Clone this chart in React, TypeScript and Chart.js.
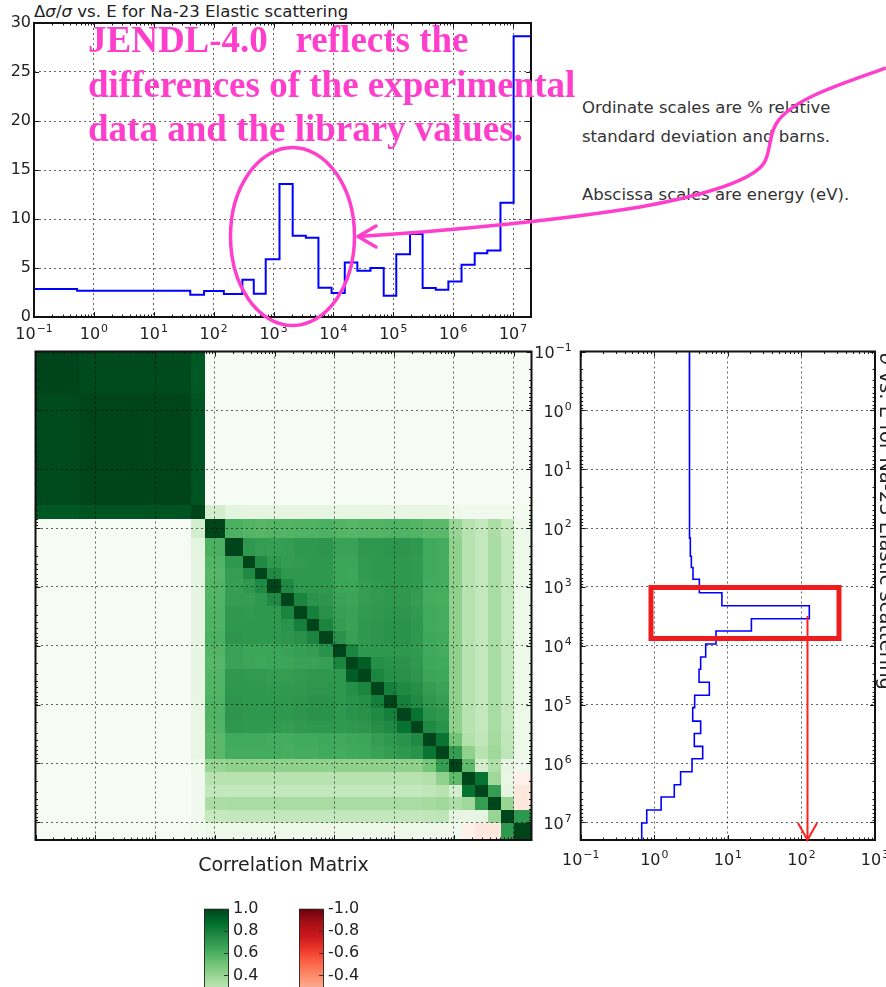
import React, { useEffect, useRef } from 'react';
import { Chart, registerables } from 'chart.js';

Chart.register(...registerables);

const FONT = "'DejaVu Sans', 'Liberation Sans', sans-serif";
const INK = '#222222';
const GRID = 'rgba(0,0,0,0.6)';
const PINK = '#ff3fcc';

Chart.defaults.font.family = FONT;
Chart.defaults.color = INK;

// ---------------- data ----------------
// energy group boundaries (eV)
const groupBoundsEV = [0.1, 0.525, 40.7, 69.2, 148, 302, 468, 741, 1259, 2089, 3467, 5623, 9333, 15488, 25119, 41687, 69183, 112202, 190546, 309030, 512861, 831764, 1380384, 2290868, 3715352, 6165950, 10232930, 19952623];
// relative standard deviation (%) per group
const relStdDevPct = [2.85, 2.68, 2.27, 2.65, 2.34, 3.8, 2.38, 5.9, 13.57, 8.28, 8.08, 2.99, 2.44, 5.56, 4.72, 4.99, 2.17, 6.41, 8.48, 2.95, 2.78, 3.63, 5.33, 6.51, 6.79, 11.67, 28.64];
// group cross section (barns)
const crossSectionBarns = [3.0, 3.0, 3.02, 3.03, 3.09, 3.19, 3.36, 4.1, 8.3, 128, 20.9, 6.9, 5.0, 4.27, 4.06, 5.6, 3.54, 3.33, 4.27, 3.5, 4.55, 3.26, 2.28, 1.87, 1.24, 0.79, 0.675];

const energyDecades = [0.1, 1, 10, 100, 1e3, 1e4, 1e5, 1e6, 1e7];
const energyTickExps = ['\u22121', '0', '1', '2', '3', '4', '5', '6', '7'];
const sigmaDecades = [0.1, 1, 10, 100, 1000];
const sigmaTickExps = ['\u22121', '0', '1', '2', '3'];
const pctTicks = [0, 5, 10, 15, 20, 25, 30];
const pctTickLabels = ['0', '5', '10', '15', '20', '25', '30'];

const correlationRows = [
  [1.00,0.98,0.94,0.01,0.01,0.01,0.01,0.01,0.01,0.01,0.01,0.01,0.01,0.01,0.01,0.01,0.01,0.01,0.01,0.01,0.01,0.01,0.01,0.01,0.01,0.01,0.01],
  [0.98,1.00,0.95,0.01,0.01,0.01,0.01,0.01,0.01,0.01,0.01,0.01,0.01,0.01,0.01,0.01,0.01,0.01,0.01,0.01,0.01,0.01,0.01,0.01,0.01,0.01,0.01],
  [0.94,0.95,1.00,0.20,0.13,0.12,0.12,0.12,0.12,0.12,0.12,0.12,0.11,0.11,0.11,0.11,0.10,0.10,0.10,0.10,0.10,0.06,0.05,0.05,0.05,0.05,0.03],
  [0.01,0.01,0.20,1.00,0.60,0.58,0.57,0.58,0.58,0.59,0.59,0.60,0.58,0.57,0.58,0.58,0.59,0.59,0.58,0.56,0.56,0.40,0.30,0.26,0.34,0.25,0.07],
  [0.01,0.01,0.13,0.60,1.00,0.70,0.68,0.67,0.68,0.70,0.70,0.71,0.66,0.66,0.70,0.70,0.71,0.71,0.70,0.63,0.62,0.42,0.30,0.26,0.35,0.26,0.07],
  [0.01,0.01,0.12,0.58,0.70,1.00,0.76,0.70,0.68,0.69,0.70,0.70,0.65,0.65,0.69,0.70,0.70,0.70,0.69,0.63,0.62,0.42,0.30,0.26,0.35,0.26,0.07],
  [0.01,0.01,0.12,0.57,0.68,0.76,1.00,0.76,0.70,0.70,0.70,0.70,0.65,0.64,0.69,0.70,0.70,0.70,0.69,0.63,0.62,0.42,0.30,0.26,0.35,0.26,0.07],
  [0.01,0.01,0.12,0.58,0.67,0.70,0.76,1.00,0.76,0.70,0.70,0.70,0.65,0.65,0.68,0.69,0.70,0.70,0.69,0.62,0.62,0.42,0.30,0.26,0.35,0.26,0.07],
  [0.01,0.01,0.12,0.58,0.68,0.68,0.70,0.76,1.00,0.78,0.72,0.71,0.66,0.65,0.68,0.69,0.70,0.70,0.68,0.62,0.61,0.42,0.30,0.26,0.35,0.26,0.07],
  [0.01,0.01,0.12,0.59,0.70,0.69,0.70,0.70,0.78,1.00,0.80,0.73,0.67,0.66,0.69,0.70,0.71,0.71,0.69,0.63,0.62,0.42,0.30,0.26,0.35,0.26,0.07],
  [0.01,0.01,0.12,0.59,0.70,0.70,0.70,0.70,0.72,0.80,1.00,0.78,0.68,0.66,0.70,0.71,0.72,0.72,0.70,0.63,0.62,0.42,0.30,0.26,0.35,0.26,0.07],
  [0.01,0.01,0.12,0.60,0.71,0.70,0.70,0.70,0.71,0.73,0.78,1.00,0.72,0.67,0.70,0.71,0.72,0.72,0.70,0.64,0.63,0.42,0.30,0.26,0.35,0.26,0.07],
  [0.01,0.01,0.11,0.58,0.66,0.65,0.65,0.65,0.66,0.67,0.68,0.72,1.00,0.78,0.70,0.70,0.70,0.70,0.69,0.63,0.62,0.42,0.30,0.26,0.35,0.26,0.07],
  [0.01,0.01,0.11,0.57,0.66,0.65,0.64,0.65,0.65,0.66,0.66,0.67,0.78,1.00,0.92,0.74,0.72,0.72,0.70,0.64,0.63,0.42,0.30,0.26,0.35,0.26,0.07],
  [0.01,0.01,0.11,0.58,0.70,0.69,0.69,0.68,0.68,0.69,0.70,0.70,0.70,0.92,1.00,0.78,0.74,0.73,0.71,0.65,0.64,0.42,0.30,0.26,0.35,0.26,0.07],
  [0.01,0.01,0.11,0.58,0.70,0.70,0.70,0.69,0.69,0.70,0.71,0.71,0.70,0.74,0.78,1.00,0.80,0.76,0.74,0.68,0.66,0.42,0.30,0.26,0.35,0.26,0.07],
  [0.01,0.01,0.10,0.59,0.71,0.70,0.70,0.70,0.70,0.71,0.72,0.72,0.70,0.72,0.74,0.80,1.00,0.80,0.76,0.70,0.68,0.42,0.30,0.26,0.35,0.26,0.07],
  [0.01,0.01,0.10,0.59,0.71,0.70,0.70,0.70,0.70,0.71,0.72,0.72,0.70,0.72,0.73,0.76,0.80,1.00,0.85,0.72,0.70,0.42,0.30,0.26,0.35,0.26,0.07],
  [0.01,0.01,0.10,0.58,0.70,0.69,0.69,0.69,0.68,0.69,0.70,0.70,0.69,0.70,0.71,0.74,0.76,0.85,1.00,0.76,0.72,0.42,0.30,0.26,0.35,0.26,0.07],
  [0.01,0.01,0.10,0.56,0.63,0.63,0.63,0.62,0.62,0.63,0.63,0.64,0.63,0.64,0.65,0.68,0.70,0.72,0.76,1.00,0.84,0.50,0.32,0.27,0.36,0.27,0.07],
  [0.01,0.01,0.10,0.56,0.62,0.62,0.62,0.62,0.61,0.62,0.62,0.63,0.62,0.63,0.64,0.66,0.68,0.70,0.72,0.84,1.00,0.68,0.42,0.30,0.38,0.28,0.07],
  [0.01,0.01,0.06,0.40,0.42,0.42,0.42,0.42,0.42,0.42,0.42,0.42,0.42,0.42,0.42,0.42,0.42,0.42,0.42,0.50,0.68,1.00,0.55,0.20,0.33,0.12,0.05],
  [0.01,0.01,0.05,0.30,0.30,0.30,0.30,0.30,0.30,0.30,0.30,0.30,0.30,0.30,0.30,0.30,0.30,0.30,0.30,0.32,0.42,0.55,1.00,0.85,0.38,0.10,-0.03],
  [0.01,0.01,0.05,0.26,0.26,0.26,0.26,0.26,0.26,0.26,0.26,0.26,0.26,0.26,0.26,0.26,0.26,0.26,0.26,0.27,0.30,0.20,0.85,1.00,0.68,0.12,-0.08],
  [0.01,0.01,0.05,0.34,0.35,0.35,0.35,0.35,0.35,0.35,0.35,0.35,0.35,0.35,0.35,0.35,0.35,0.35,0.35,0.36,0.38,0.33,0.38,0.68,1.00,0.40,-0.08],
  [0.01,0.01,0.05,0.25,0.26,0.26,0.26,0.26,0.26,0.26,0.26,0.26,0.26,0.26,0.26,0.26,0.26,0.26,0.26,0.27,0.28,0.12,0.10,0.12,0.40,1.00,0.70],
  [0.01,0.01,0.03,0.07,0.07,0.07,0.07,0.07,0.07,0.07,0.07,0.07,0.07,0.07,0.07,0.07,0.07,0.07,0.07,0.07,0.07,0.05,-0.03,-0.08,-0.08,0.70,1.00],
];

const greenBarTicks = [0, 0.2, 0.4, 0.6, 0.8, 1.0];
const greenBarLabels = ['0.0', '0.2', '0.4', '0.6', '0.8', '1.0'];
const redBarTicks = [-1, -0.8, -0.6, -0.4, -0.2, 0];
const redBarLabels = ['-1.0', '-0.8', '-0.6', '-0.4', '-0.2', '0.0'];

const greensStops = ['#f7fcf5', '#e5f5e0', '#c7e9c0', '#a1d99b', '#74c476', '#41ab5d', '#238b45', '#006d2c', '#00441b'];
const redsStops = ['#fff5f0', '#fee0d2', '#fcbba1', '#fc9272', '#fb6a4a', '#ef3b2c', '#cb181d', '#a50f15', '#67000d'];

// ---------------- helpers ----------------
const E_MIN = groupBoundsEV[0];
const E_MAX = groupBoundsEV[groupBoundsEV.length - 1];
const LABEL_SIZE = 16;
const tickFont = { family: FONT, size: LABEL_SIZE };

function hexToRgb(h: string) {
  const n = parseInt(h.slice(1), 16);
  return [(n >> 16) & 255, (n >> 8) & 255, n & 255];
}
function lerpColor(stops: string[], t: number) {
  const tt = Math.max(0, Math.min(1, t)) * (stops.length - 1);
  const i = Math.min(stops.length - 2, Math.floor(tt));
  const f = tt - i;
  const a = hexToRgb(stops[i]);
  const b = hexToRgb(stops[i + 1]);
  const c = a.map((v, k) => Math.round(v + (b[k] - v) * f));
  return `rgb(${c[0]},${c[1]},${c[2]})`;
}
function corrColor(v: number) {
  return v >= 0 ? lerpColor(greensStops, v) : lerpColor(redsStops, -v);
}
function logMinorTicks(min: number, max: number) {
  const out: number[] = [];
  for (let e = Math.floor(Math.log10(min)); e <= Math.ceil(Math.log10(max)); e++) {
    for (let k = 2; k <= 9; k++) {
      const v = k * Math.pow(10, e);
      if (v > min && v < max) out.push(v);
    }
  }
  return out;
}
const setTicks = (values: number[]) => (s: any) => {
  s.ticks = values.map((value) => ({ value }));
};

// draws "10" with a raised exponent, like matplotlib's mathtext
function drawPow(ctx: any, x: number, baseline: number, exp: string, align: 'center' | 'right') {
  const bf = `${LABEL_SIZE}px ${FONT}`;
  const ef = `${LABEL_SIZE * 0.68}px ${FONT}`;
  ctx.font = bf;
  const wb = ctx.measureText('10').width;
  ctx.font = ef;
  const we = ctx.measureText(exp).width;
  const total = wb + 1 + we;
  const x0 = align === 'center' ? x - total / 2 : x - total;
  ctx.textAlign = 'left';
  ctx.textBaseline = 'alphabetic';
  ctx.fillStyle = INK;
  ctx.font = bf;
  ctx.fillText('10', x0, baseline);
  ctx.font = ef;
  ctx.fillText(exp, x0 + wb + 1, baseline - LABEL_SIZE * 0.45);
}

type FrameOpts = {
  xMajor: number[]; xMinor: number[]; yMajor: number[]; yMinor: number[];
  xPow?: { exps: string[]; baselineOffset: number };
  yPow?: { exps: string[]; rightGap: number; baselineShift: number };
};

function makeFramePlugin(o: FrameOpts) {
  return {
    id: 'frameTicks',
    afterDraw(chart: any) {
      const { ctx, chartArea: a } = chart;
      const xs = chart.scales.x;
      const ys = chart.scales.y;
      ctx.save();
      ctx.strokeStyle = '#1a1a1a';
      ctx.lineWidth = 1;
      const seg = (x1: number, y1: number, x2: number, y2: number) => {
        ctx.beginPath();
        ctx.moveTo(x1, y1);
        ctx.lineTo(x2, y2);
        ctx.stroke();
      };
      const doX = (vals: number[], len: number) =>
        vals.forEach((v) => {
          const p = Math.round(xs.getPixelForValue(v)) + 0.5;
          if (p < a.left || p > a.right) return;
          seg(p, a.bottom, p, a.bottom - len);
          seg(p, a.top, p, a.top + len);
        });
      const doY = (vals: number[], len: number) =>
        vals.forEach((v) => {
          const p = Math.round(ys.getPixelForValue(v)) + 0.5;
          if (p < a.top || p > a.bottom) return;
          seg(a.left, p, a.left + len, p);
          seg(a.right, p, a.right - len, p);
        });
      doX(o.xMajor, 5);
      doX(o.xMinor, 2.5);
      doY(o.yMajor, 5);
      doY(o.yMinor, 2.5);
      ctx.lineWidth = 2;
      ctx.strokeStyle = '#111';
      ctx.strokeRect(a.left, a.top, a.right - a.left, a.bottom - a.top);
      if (o.xPow) {
        o.xMajor.forEach((v, i) => {
          drawPow(ctx, xs.getPixelForValue(v), a.bottom + o.xPow!.baselineOffset, o.xPow!.exps[i], 'center');
        });
      }
      if (o.yPow) {
        o.yMajor.forEach((v, i) => {
          drawPow(ctx, a.left - o.yPow!.rightGap, ys.getPixelForValue(v) + o.yPow!.baselineShift, o.yPow!.exps[i], 'right');
        });
      }
      ctx.restore();
    },
  };
}

const heatmapPlugin = {
  id: 'heatmap',
  beforeDraw(chart: any) {
    const { ctx } = chart;
    const xs = chart.scales.x;
    const ys = chart.scales.y;
    const xe = groupBoundsEV.map((v) => Math.round(xs.getPixelForValue(v)));
    const ye = groupBoundsEV.map((v) => Math.round(ys.getPixelForValue(v)));
    ctx.save();
    for (let i = 0; i < correlationRows.length; i++) {
      for (let j = 0; j < correlationRows[i].length; j++) {
        ctx.fillStyle = corrColor(correlationRows[i][j]);
        ctx.fillRect(xe[j], ye[i], xe[j + 1] - xe[j], ye[i + 1] - ye[i]);
      }
    }
    ctx.restore();
  },
};

const barTicksPlugin = {
  id: 'barTicks',
  afterDraw(chart: any) {
    const { ctx, chartArea: a } = chart;
    const ys = chart.scales.y;
    ctx.save();
    ctx.strokeStyle = '#333';
    ctx.lineWidth = 1;
    ys.ticks.forEach((t: any) => {
      const p = Math.round(ys.getPixelForValue(t.value)) + 0.5;
      ctx.beginPath();
      ctx.moveTo(a.right, p);
      ctx.lineTo(a.right - 5, p);
      ctx.stroke();
    });
    ctx.restore();
  },
};

const baseOpts = {
  responsive: false,
  animation: false,
  devicePixelRatio: 1,
  events: [],
};

function axisCommon(extra: any) {
  return {
    grid: { color: GRID, lineWidth: 1, drawTicks: false },
    border: { display: false, dash: [2, 3] },
    ...extra,
  };
}

// ---------------- configs ----------------
function makeTopConfig(): any {
  const pts: { x: number; y: number }[] = [];
  relStdDevPct.forEach((v, g) => {
    pts.push({ x: groupBoundsEV[g], y: v }, { x: groupBoundsEV[g + 1], y: v });
  });
  return {
    type: 'scatter',
    data: {
      datasets: [{ data: pts, showLine: true, borderColor: '#0000ff', borderWidth: 2, pointRadius: 0, tension: 0, fill: false }],
    },
    options: {
      ...baseOpts,
      layout: { padding: { left: 0, top: 23, right: 29, bottom: 0 } },
      plugins: { legend: { display: false }, tooltip: { enabled: false } },
      scales: {
        x: axisCommon({
          type: 'logarithmic', min: E_MIN, max: E_MAX,
          afterBuildTicks: setTicks(energyDecades),
          afterFit: (s: any) => { s.height = 28; },
          ticks: { display: false },
        }),
        y: axisCommon({
          type: 'linear', min: 0, max: 30,
          afterBuildTicks: setTicks(pctTicks),
          afterFit: (s: any) => { s.width = 34; },
          ticks: { padding: 3, color: INK, font: tickFont, callback: (_v: any, i: number) => pctTickLabels[i] },
        }),
      },
    },
    plugins: [makeFramePlugin({
      xMajor: energyDecades, xMinor: logMinorTicks(E_MIN, E_MAX), yMajor: pctTicks, yMinor: [],
      xPow: { exps: energyTickExps, baselineOffset: 22 },
    })],
  };
}

function makeMatrixConfig(): any {
  return {
    type: 'scatter',
    data: { datasets: [] },
    options: {
      ...baseOpts,
      layout: { padding: { left: 0, top: 11.5, right: 13.5, bottom: 0 } },
      plugins: { legend: { display: false }, tooltip: { enabled: false } },
      scales: {
        x: axisCommon({
          type: 'logarithmic', min: E_MIN, max: E_MAX,
          afterBuildTicks: setTicks(energyDecades),
          afterFit: (s: any) => { s.height = 40; },
          ticks: { display: false },
          title: { display: true, text: 'Correlation Matrix', color: INK, font: { family: FONT, size: 19 }, padding: { top: 0, bottom: 3 } },
        }),
        y: axisCommon({
          type: 'logarithmic', reverse: true, min: E_MIN, max: E_MAX,
          afterBuildTicks: setTicks(energyDecades),
          afterFit: (s: any) => { s.width = 35.5; },
          ticks: { display: false },
        }),
      },
    },
    plugins: [heatmapPlugin, makeFramePlugin({ xMajor: energyDecades, xMinor: logMinorTicks(E_MIN, E_MAX), yMajor: energyDecades, yMinor: logMinorTicks(E_MIN, E_MAX) })],
  };
}

function makeSideConfig(): any {
  const pts: { x: number; y: number }[] = [];
  crossSectionBarns.forEach((v, g) => {
    pts.push({ x: v, y: groupBoundsEV[g] }, { x: v, y: groupBoundsEV[g + 1] });
  });
  return {
    type: 'scatter',
    data: {
      datasets: [{ data: pts, showLine: true, borderColor: '#0000ff', borderWidth: 1.6, pointRadius: 0, tension: 0, fill: false }],
    },
    options: {
      ...baseOpts,
      layout: { padding: { left: 0, top: 11.5, right: 11, bottom: 0 } },
      plugins: { legend: { display: false }, tooltip: { enabled: false } },
      scales: {
        x: axisCommon({
          type: 'logarithmic', min: 0.1, max: 1000,
          afterBuildTicks: setTicks(sigmaDecades),
          afterFit: (s: any) => { s.height = 40; },
          ticks: { display: false },
        }),
        y: axisCommon({
          type: 'logarithmic', reverse: true, min: E_MIN, max: E_MAX,
          afterBuildTicks: setTicks(energyDecades),
          afterFit: (s: any) => { s.width = 55.7; },
          ticks: { display: false },
        }),
      },
    },
    plugins: [makeFramePlugin({
      xMajor: sigmaDecades, xMinor: logMinorTicks(0.1, 1000), yMajor: energyDecades, yMinor: logMinorTicks(E_MIN, E_MAX),
      xPow: { exps: sigmaTickExps, baselineOffset: 25 },
      yPow: { exps: energyTickExps, rightGap: 9, baselineShift: 6.5 },
    })],
  };
}

function makeBarConfig(ticks: number[], labels: string[], stops: string[], lo: number, hi: number, reverse: boolean): any {
  return {
    type: 'bar',
    data: {
      labels: [''],
      datasets: [{
        data: [[lo, hi]],
        backgroundColor: (c: any) => {
          const ch = c.chart;
          if (!ch.chartArea) return stops[stops.length - 1];
          const ys = ch.scales.y;
          const zeroVal = lo >= 0 ? lo : hi;
          const fullVal = lo >= 0 ? hi : lo;
          const g = ch.ctx.createLinearGradient(0, ys.getPixelForValue(zeroVal), 0, ys.getPixelForValue(fullVal));
          stops.forEach((s, k) => g.addColorStop(k / (stops.length - 1), s));
          return g;
        },
        borderColor: '#222',
        borderWidth: 1.2,
        borderSkipped: false,
        barPercentage: 1,
        categoryPercentage: 1,
      }],
    },
    options: {
      ...baseOpts,
      layout: { padding: { left: 14, top: 10, right: 0, bottom: 15 } },
      plugins: { legend: { display: false }, tooltip: { enabled: false } },
      scales: {
        x: { display: false },
        y: {
          position: 'right', min: lo, max: hi, reverse,
          afterBuildTicks: setTicks(ticks),
          afterFit: (s: any) => { s.width = 41; },
          ticks: { padding: 4, color: INK, font: { family: FONT, size: 16 }, callback: (_v: any, i: number) => labels[i] },
          grid: { display: false, drawTicks: false },
          border: { display: false },
        },
      },
    },
    plugins: [barTicksPlugin],
  };
}

// ---------------- components ----------------
function ChartBox({ left, top, width, height, make }: { left: number; top: number; width: number; height: number; make: () => any }) {
  const ref = useRef<HTMLCanvasElement>(null);
  useEffect(() => {
    const c = ref.current;
    if (!c) return;
    const chart = new Chart(c, make());
    return () => chart.destroy();
  }, []);
  return (
    <canvas
      ref={ref}
      width={width}
      height={height}
      style={{ position: 'absolute', left, top, width, height, display: 'block' }}
    />
  );
}

export default function App() {
  return (
    <div style={{ position: 'absolute', left: 0, top: 0, width: 886, height: 987, overflow: 'hidden', background: '#fff' }}>
      <div style={{ position: 'absolute', left: 34, top: 3.5, font: `16.6px ${FONT}`, lineHeight: '16px', color: INK, whiteSpace: 'nowrap' }}>
        Δ<i>σ</i>/<i>σ</i> vs. E for Na-23 Elastic scattering
      </div>
      <ChartBox left={0} top={0} width={560} height={345} make={makeTopConfig} />
      <ChartBox left={0} top={340} width={545} height={540} make={makeMatrixConfig} />
      <ChartBox left={525} top={340} width={361} height={540} make={makeSideConfig} />
      <ChartBox left={190} top={895} width={80} height={140} make={() => makeBarConfig(greenBarTicks, greenBarLabels, greensStops, 0, 1, false)} />
      <ChartBox left={285} top={895} width={80} height={140} make={() => makeBarConfig(redBarTicks, redBarLabels, redsStops, -1, 0, true)} />
      <div style={{ position: 'absolute', left: 876, top: 353, writingMode: 'vertical-rl', font: `19.5px ${FONT}`, lineHeight: '19.5px', color: INK, whiteSpace: 'nowrap' }}>
        <i>σ</i> vs. E for Na-23 Elastic scattering
      </div>
      <div style={{ position: 'absolute', left: 582, top: 93, font: `16.5px ${FONT}`, lineHeight: '29px', color: '#333', whiteSpace: 'pre' }}>
        {'Ordinate scales are % relative\nstandard deviation and barns.\n\nAbscissa scales are energy (eV).'}
      </div>
      <div style={{ position: 'absolute', left: 88, top: 18, font: "bold 37px 'Liberation Serif', 'Times New Roman', serif", lineHeight: '44.5px', color: PINK, whiteSpace: 'pre' }}>
        {'JENDL-4.0   reflects the\ndifferences of the experimental\ndata and the library values.'}
      </div>
      <svg width={886} height={987} style={{ position: 'absolute', left: 0, top: 0, pointerEvents: 'none' }}>
        <ellipse cx={292.5} cy={236.5} rx={62} ry={89} fill="none" stroke={PINK} strokeWidth={3.5} />
        <path d="M 886 68 C 840 84, 790 100, 776 124 C 768 138, 771 152, 764 163 C 752 181, 700 196, 640 207 C 560 220, 450 231, 358 236.5" fill="none" stroke={PINK} strokeWidth={3.5} />
        <path d="M 376 226 L 358 236.5 L 376 247" fill="none" stroke={PINK} strokeWidth={3.5} strokeLinecap="round" strokeLinejoin="round" />
        <rect x={651} y={587.5} width={188} height={51} fill="none" stroke="#ee1c1c" strokeWidth={5} />
        <line x1={807.5} y1={616} x2={807.5} y2={839} stroke="#ff2020" strokeWidth={2} />
        <path d="M 798 823 L 807.5 840 L 817 823" fill="none" stroke="#ff2020" strokeWidth={2} />
      </svg>
    </div>
  );
}
